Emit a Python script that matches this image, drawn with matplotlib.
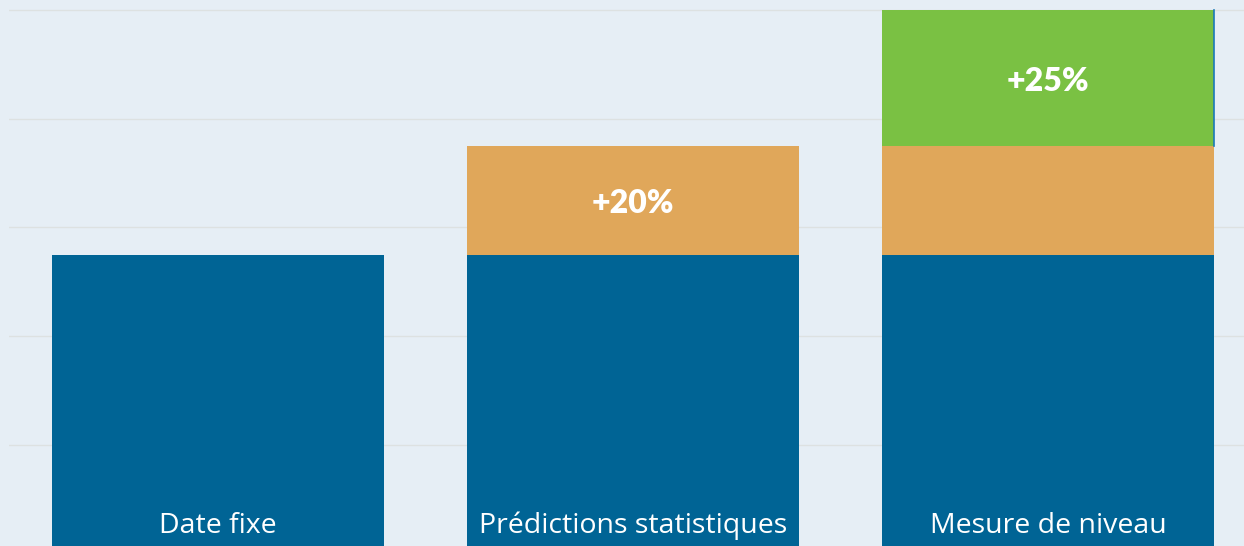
import matplotlib.pyplot as plt

categories = ['Date fixe', 'Prédictions statistiques', 'Mesure de niveau']
base = [55, 55, 55]
extra_20 = [0, 20, 20]
extra_25 = [0, 0, 25]
gains = ['', '+20%', '+25%']

bg = '#e6eef5'
blue = '#006495'
orange = '#e0a75a'
green = '#7ac143'

fig = plt.figure(figsize=(12.44, 5.46), dpi=100, facecolor=bg)
ax = fig.add_axes([9 / 1244, 0, 1 - 9 / 1244, 1])
ax.set_facecolor(bg)

x = range(len(categories))
ax.bar(x, base, width=0.8, color=blue, zorder=2)
b20 = ax.bar(x, extra_20, width=0.8, bottom=base, color=orange, zorder=2)
bottom25 = [b + e for b, e in zip(base, extra_20)]
b25 = ax.bar(x, extra_25, width=0.8, bottom=bottom25, color=green, zorder=2)

# thin blue edge on the right of the green bar
p = b25[2]
ax.plot([p.get_x() + p.get_width()] * 2, [p.get_y(), p.get_y() + p.get_height()],
        color='#1a7ab8', lw=1.2, zorder=3)

for i, cat in enumerate(categories):
    ax.text(i, 5.0, cat, ha='center', va='center', color='white',
            fontsize=20.5, family=['Open Sans', 'DejaVu Sans'])

bold = dict(ha='center', va='center', color='white', fontsize=23,
            fontweight='heavy', family=['Lato', 'DejaVu Sans'])
for i in x:
    if extra_20[i] and not extra_25[i]:
        ax.text(i, base[i] + extra_20[i] / 2 - 0.6, gains[i], **bold)
    if extra_25[i]:
        ax.text(i, bottom25[i] + extra_25[i] / 2 - 0.6, gains[i], **bold)

ax.set_xlim(-0.5036, 2.472)
ax.set_ylim(1.3, 101.9)
ax.set_yticks([20, 40, 60, 80, 100])
ax.grid(axis='y', color='#dde1e1', lw=1.0, zorder=1)
ax.tick_params(left=False, bottom=False, labelleft=False, labelbottom=False)
for s in ax.spines.values():
    s.set_visible(False)

fig.savefig('out.png', dpi=100, facecolor=bg)
